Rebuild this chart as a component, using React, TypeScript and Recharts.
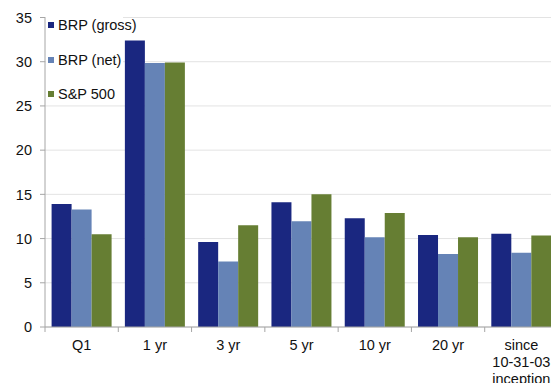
import React from "react";
import { BarChart, Bar, XAxis, YAxis, CartesianGrid, Legend } from "recharts";

const categories = ["Q1", "1 yr", "3 yr", "5 yr", "10 yr", "20 yr", "since\n10-31-03\ninception"];
const brpGross = [13.9, 32.4, 9.6, 14.1, 12.3, 10.4, 10.55];
const brpNet = [13.3, 29.85, 7.4, 11.95, 10.15, 8.25, 8.4];
const sp500 = [10.5, 29.9, 11.5, 15.0, 12.9, 10.15, 10.35];
const yTicks = [0, 5, 10, 15, 20, 25, 30, 35];

const seriesNames = ["BRP (gross)", "BRP (net)", "S&P 500"];
const colors = ["#1a2780", "#6583b6", "#667e33"];

const data = categories.map((c, i) => ({
  name: c,
  gross: brpGross[i],
  net: brpNet[i],
  sp: sp500[i],
}));

const FONT = "'Liberation Sans', Arial, sans-serif";
const AXIS = "#a6a6a6";

const XTick = (props: any) => {
  const { x, y, payload } = props;
  const off = payload && typeof payload.offset === "number" ? payload.offset : 36.6;
  const lines = String(payload.value).split("\n");
  return (
    <g>
      <line x1={x - off} y1={y} x2={x - off} y2={y + 5} stroke={AXIS} strokeWidth={1} />
      {lines.map((l, i) => (
        <text
          key={i}
          x={x}
          y={y + 18 + i * 17}
          textAnchor="middle"
          dominantBaseline="central"
          fontFamily={FONT}
          fontSize={14.5}
          fill="#111"
        >
          {l}
        </text>
      ))}
    </g>
  );
};

const LegendContent = () => (
  <div
    style={{
      background: "#fff",
      width: 77,
      height: 88,
      fontFamily: FONT,
      fontSize: 14.5,
      color: "#111",
      position: "relative",
      overflow: "visible",
    }}
  >
    {seriesNames.map((n, i) => (
      <div
        key={n}
        style={{
          position: "absolute",
          left: 0,
          top: 2.5 + i * 34.7,
          height: 17,
          display: "flex",
          alignItems: "center",
          whiteSpace: "nowrap",
        }}
      >
        <span
          style={{
            display: "inline-block",
            width: 6,
            height: 6,
            background: colors[i],
            marginRight: 4.5,
            marginLeft: 1.5,
          }}
        />
        {n}
      </div>
    ))}
  </div>
);

export default function App() {
  return (
    <div style={{ position: "absolute", left: 0, top: 0, width: 551, height: 383, overflow: "hidden", background: "#fff" }}>
      <BarChart
        width={558}
        height={383}
        data={data}
        margin={{ top: 17.5, right: 0, bottom: 0, left: 0 }}
        barGap={0}
        barCategoryGap="9%"
      >
        <CartesianGrid vertical={false} stroke="#e3e3e3" />
        <YAxis
          width={45}
          domain={[0, 35]}
          ticks={yTicks}
          interval={0}
          stroke={AXIS}
          tickSize={5}
          tickMargin={8}
          tick={{ fontFamily: FONT, fontSize: 14.5, fill: "#111" }}
        />
        <XAxis
          dataKey="name"
          height={56}
          stroke={AXIS}
          tickSize={0}
          tickMargin={0}
          tickLine={false}
          interval={0}
          tick={<XTick />}
        />
        <Legend
          layout="vertical"
          align="center"
          verticalAlign="middle"
          content={<LegendContent />}
          wrapperStyle={{ position: "absolute", left: 46, top: 14, width: 77, height: 88 }}
        />
        <Bar dataKey="gross" name={seriesNames[0]} fill={colors[0]} isAnimationActive={false} />
        <Bar dataKey="net" name={seriesNames[1]} fill={colors[1]} isAnimationActive={false} />
        <Bar dataKey="sp" name={seriesNames[2]} fill={colors[2]} isAnimationActive={false} />
      </BarChart>
    </div>
  );
}
